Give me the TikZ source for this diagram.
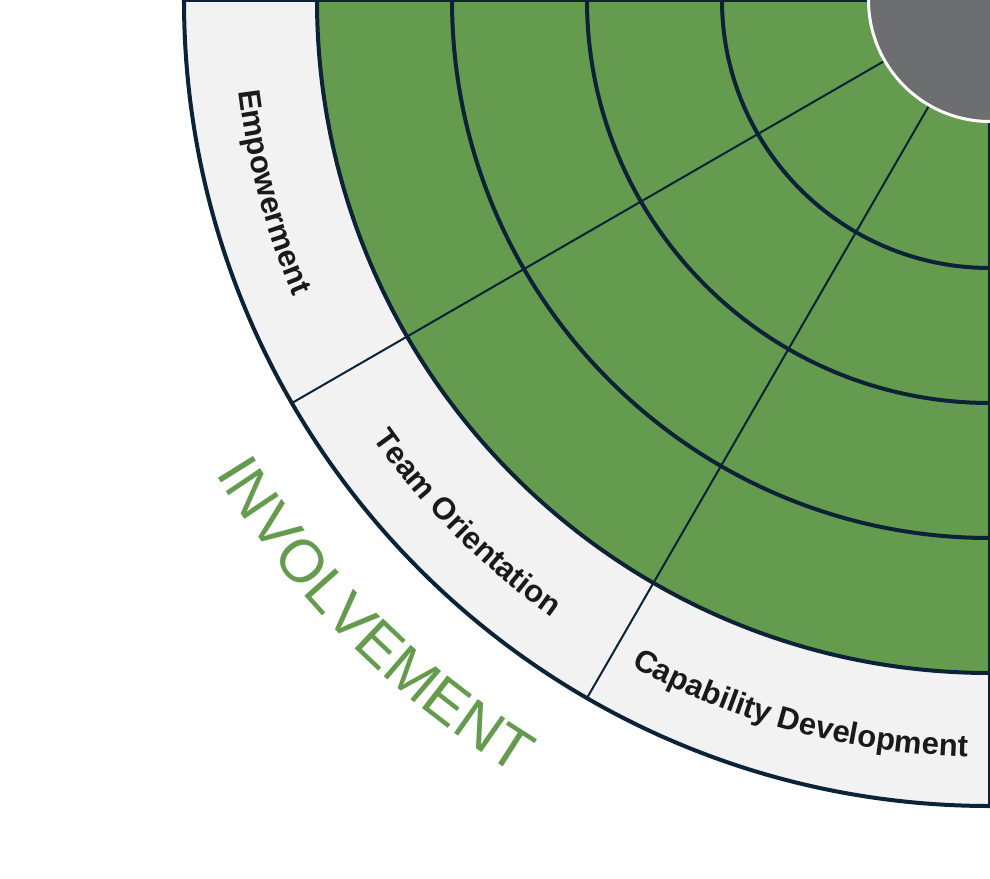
\documentclass[tikz,border=0pt]{standalone}
\usepackage{fontspec}
\setmainfont{Liberation Sans}
\usepackage{tikz}
\usetikzlibrary{decorations.text}
\definecolor{wheelgreen}{RGB}{101,155,78}
\definecolor{wheelnavy}{RGB}{12,34,54}
\definecolor{bandgray}{RGB}{242,242,242}
\definecolor{hubgray}{RGB}{109,110,112}
\definecolor{labelblack}{RGB}{26,26,26}
\newcommand{\traitfont}{\fontsize{31}{36}\selectfont\bfseries}
\newcommand{\areafont}{\fontsize{60}{70}\selectfont}

\begin{document}
\begin{tikzpicture}[x=1pt, y=1pt,
    ring/.style={draw=wheelnavy, line width=4pt},
    spoke/.style={draw=wheelnavy, line width=2pt},
    trait/.style={decorate, decoration={text along path, text align=center}}]
    \def\rout{806pt}
    \def\rgreen{673pt}
    \def\rhub{121.5pt}

    \useasboundingbox (-990,-878) rectangle (0,0);
    \clip (-990,-878) rectangle (0,0);

    % Draw band and green area
    \fill[bandgray] (0,0) -- (180:\rout) arc[start angle=180, end angle=270, radius=\rout] -- cycle;
    \fill[wheelgreen] (0,0) -- (180:\rgreen) arc[start angle=180, end angle=270, radius=\rgreen] -- cycle;

    % Draw spokes
    \foreach \a in {210,240} {
        \draw[spoke] (\a:\rhub) -- (\a:\rout);
    }
    \foreach \a in {180,270} {
        \draw[ring] (\a:\rhub) -- (\a:\rout);
    }

    % Draw rings
    \foreach \r in {806pt,673pt,538pt,403pt,268pt} {
        \draw[ring] (180:\r) arc[start angle=180, end angle=270, radius=\r];
    }

    % Draw hub
    \fill[hubgray, draw=white, line width=3pt] (0,0) circle[radius=\rhub];

    % Draw labels
    \path[trait, decoration={text={|\color{labelblack}\traitfont|Empowerment}}]
        (180:757pt) arc[start angle=180, end angle=210, radius=757pt];
    \path[trait, decoration={text={|\color{labelblack}\traitfont|Team Orientation}}]
        (210:757pt) arc[start angle=210, end angle=240, radius=757pt];
    \path[trait, decoration={text={|\color{labelblack}\traitfont|Capability Development}}]
        (240:757pt) arc[start angle=240, end angle=270, radius=757pt];

    \path[trait, decoration={text={|\color{wheelgreen}\areafont|INVOLVEMENT}}]
        (205:908pt) arc[start angle=205, end angle=245, radius=908pt];
\end{tikzpicture}
\end{document}
